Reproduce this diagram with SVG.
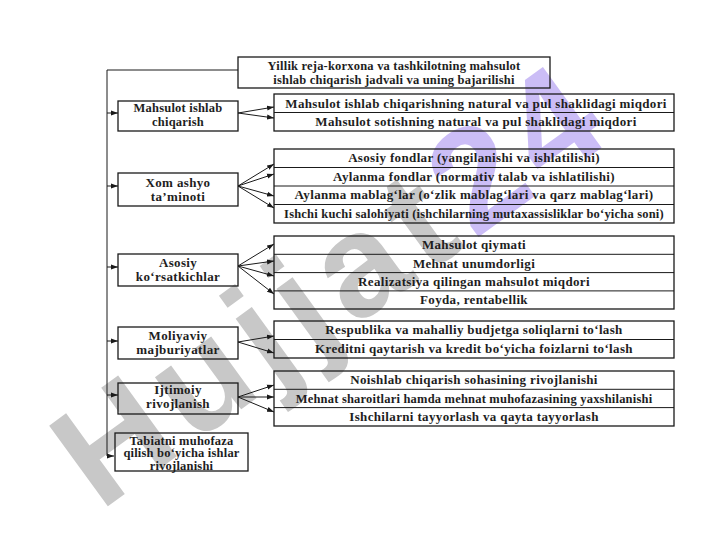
<svg xmlns="http://www.w3.org/2000/svg" width="720" height="540" viewBox="0 0 720 540">
<style>
.box{fill:none;stroke:#1a1a1a;stroke-width:1.3}
.ln{fill:none;stroke:#1a1a1a;stroke-width:1}
text{font-family:"Liberation Serif","Times New Roman",serif;font-size:13px;letter-spacing:0.35px;font-weight:bold;fill:#1e1e1e;text-anchor:middle}
.sm{font-size:12.5px;letter-spacing:0.2px}
.wm{font-family:"Liberation Sans",Arial,sans-serif;font-size:145px;letter-spacing:10px;font-weight:bold;fill:#ababab;text-anchor:start}
</style>
<defs>
<marker id="ah" markerUnits="userSpaceOnUse" markerWidth="8" markerHeight="6" refX="7" refY="3" orient="auto">
<path d="M0,0.5 L7,3 L0,5.5 z" fill="#1a1a1a"/>
</marker>
</defs>
<rect width="720" height="540" fill="#ffffff"/>
<g id="watermark" opacity="0.65">
<text class="wm" x="100" y="512" transform="rotate(-36 100 512)">Hujjat<tspan fill="#b09af2">24</tspan></text>
</g>
<g id="connectors">
<polyline class="ln" points="238,70 107,70 107,456 114,456" marker-end="url(#ah)"/>
<line class="ln" x1="107" y1="113" x2="118" y2="113" marker-end="url(#ah)"/>
<line class="ln" x1="107" y1="186" x2="118" y2="186" marker-end="url(#ah)"/>
<line class="ln" x1="107" y1="267" x2="118" y2="267" marker-end="url(#ah)"/>
<line class="ln" x1="107" y1="341" x2="118" y2="341" marker-end="url(#ah)"/>
<line class="ln" x1="107" y1="395" x2="118" y2="395" marker-end="url(#ah)"/>
<line class="ln" x1="238" y1="113" x2="274" y2="107" marker-end="url(#ah)"/>
<line class="ln" x1="238" y1="113" x2="274" y2="118" marker-end="url(#ah)"/>
<line class="ln" x1="238" y1="186" x2="274" y2="164" marker-end="url(#ah)"/>
<line class="ln" x1="238" y1="186" x2="274" y2="174" marker-end="url(#ah)"/>
<line class="ln" x1="238" y1="186" x2="274" y2="196" marker-end="url(#ah)"/>
<line class="ln" x1="238" y1="186" x2="274" y2="208" marker-end="url(#ah)"/>
<line class="ln" x1="238" y1="266" x2="274" y2="244" marker-end="url(#ah)"/>
<line class="ln" x1="238" y1="266" x2="274" y2="261" marker-end="url(#ah)"/>
<line class="ln" x1="238" y1="266" x2="274" y2="276" marker-end="url(#ah)"/>
<line class="ln" x1="238" y1="266" x2="274" y2="294" marker-end="url(#ah)"/>
<line class="ln" x1="238" y1="342" x2="274" y2="336" marker-end="url(#ah)"/>
<line class="ln" x1="238" y1="342" x2="274" y2="353" marker-end="url(#ah)"/>
<line class="ln" x1="238" y1="397" x2="274" y2="385" marker-end="url(#ah)"/>
<line class="ln" x1="238" y1="397" x2="274" y2="397" marker-end="url(#ah)"/>
<line class="ln" x1="238" y1="397" x2="274" y2="412" marker-end="url(#ah)"/>
</g>
<g id="n-top">
<rect class="box" x="238" y="57" width="312" height="31"/>
<text x="394" y="69.5" class="sm">Yillik reja-korxona va tashkilotning mahsulot</text>
<text x="394" y="83.5" class="sm">ishlab chiqarish jadvali va uning bajarilishi</text>
</g>
<g id="n-mahsulot">
<rect class="box" x="118" y="101" width="120" height="30"/>
<text x="178" y="112" class="sm">Mahsulot ishlab</text>
<text x="178" y="126" class="sm">chiqarish</text>
</g>
<g id="n-mahsulot-list">
<rect class="box" x="274" y="94" width="400" height="37"/>
<line class="ln" x1="274" y1="112.5" x2="674" y2="112.5"/>
<text x="476" y="107.5">Mahsulot ishlab chiqarishning natural va pul shaklidagi miqdori</text>
<text x="476" y="126">Mahsulot sotishning natural va pul shaklidagi miqdori</text>
</g>
<g id="n-xom">
<rect class="box" x="118" y="173" width="120" height="33"/>
<text x="178" y="186.5">Xom ashyo</text>
<text x="178" y="200.5">ta’minoti</text>
</g>
<g id="n-xom-list">
<rect class="box" x="274" y="149" width="400" height="74"/>
<line class="ln" x1="274" y1="167.5" x2="674" y2="167.5"/>
<line class="ln" x1="274" y1="186" x2="674" y2="186"/>
<line class="ln" x1="274" y1="204.5" x2="674" y2="204.5"/>
<text x="474" y="162">Asosiy fondlar (yangilanishi va ishlatilishi)</text>
<text x="474" y="180.5">Aylanma fondlar (normativ talab va ishlatilishi)</text>
<text x="474" y="199">Aylanma mablag‘lar (o‘zlik mablag‘lari va qarz mablag‘lari)</text>
<text x="474" y="217.5" class="sm">Ishchi kuchi salohiyati (ishchilarning mutaxassisliklar bo‘yicha soni)</text>
</g>
<g id="n-asosiy">
<rect class="box" x="118" y="254" width="120" height="32"/>
<text x="178" y="267">Asosiy</text>
<text x="178" y="281">ko‘rsatkichlar</text>
</g>
<g id="n-asosiy-list">
<rect class="box" x="274" y="236" width="400" height="73"/>
<line class="ln" x1="274" y1="254.3" x2="674" y2="254.3"/>
<line class="ln" x1="274" y1="272.6" x2="674" y2="272.6"/>
<line class="ln" x1="274" y1="290.9" x2="674" y2="290.9"/>
<text x="474" y="249">Mahsulot qiymati</text>
<text x="474" y="267.5">Mehnat unumdorligi</text>
<text x="474" y="286">Realizatsiya qilingan mahsulot miqdori</text>
<text x="474" y="304">Foyda, rentabellik</text>
</g>
<g id="n-moliya">
<rect class="box" x="118" y="327" width="120" height="32"/>
<text x="178" y="340">Moliyaviy</text>
<text x="178" y="354">majburiyatlar</text>
</g>
<g id="n-moliya-list">
<rect class="box" x="274" y="321" width="400" height="37"/>
<line class="ln" x1="274" y1="339.5" x2="674" y2="339.5"/>
<text x="474" y="334">Respublika va mahalliy budjetga soliqlarni to‘lash</text>
<text x="474" y="352.5">Kreditni qaytarish va kredit bo‘yicha foizlarni to‘lash</text>
</g>
<g id="n-ijtimoiy">
<rect class="box" x="118" y="383" width="120" height="31"/>
<text x="178" y="394">Ijtimoiy</text>
<text x="178" y="408">rivojlanish</text>
</g>
<g id="n-ijtimoiy-list">
<rect class="box" x="274" y="371" width="400" height="55"/>
<line class="ln" x1="274" y1="389.3" x2="674" y2="389.3"/>
<line class="ln" x1="274" y1="407.6" x2="674" y2="407.6"/>
<text x="474" y="384">Noishlab chiqarish sohasining rivojlanishi</text>
<text x="474" y="402.5" class="sm">Mehnat sharoitlari hamda mehnat muhofazasining yaxshilanishi</text>
<text x="474" y="421">Ishchilarni tayyorlash va qayta tayyorlash</text>
</g>
<g id="n-tabiat">
<rect class="box" x="115" y="433" width="133" height="38"/>
<text x="181.5" y="444.5" class="sm">Tabiatni muhofaza</text>
<text x="181.5" y="457" class="sm">qilish bo‘yicha ishlar</text>
<text x="181.5" y="469.5" class="sm">rivojlanishi</text>
</g>
</svg>
